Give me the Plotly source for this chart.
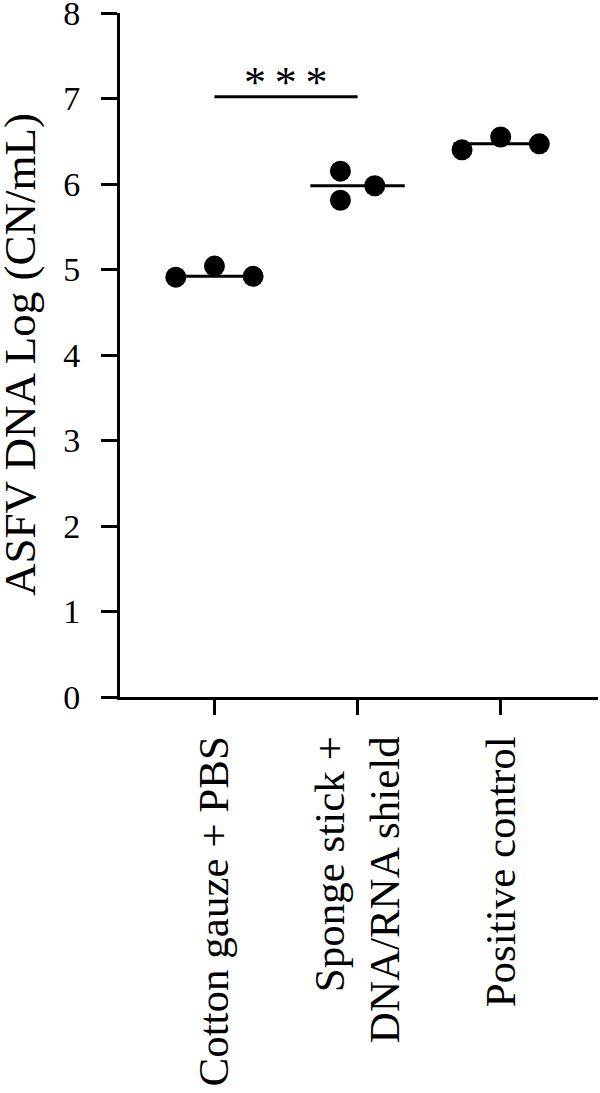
import plotly.graph_objects as go
import statistics

categories = ["Cotton gauze + PBS", "Sponge stick +<br>DNA/RNA shield", "Positive control"]
cotton_gauze_pbs = [4.91, 5.04, 4.92]
sponge_stick_shield = [6.15, 5.81, 5.98]
positive_control = [6.40, 6.55, 6.47]
y_ticks = [0, 1, 2, 3, 4, 5, 6, 7, 8]
significance_label = "*\u2009*\u2009*"
y_title = "ASFV DNA Log (CN/mL)"

groups = [cotton_gauze_pbs, sponge_stick_shield, positive_control]
# horizontal scatter offsets of the dots within each group
offsets = [[-0.27, 0.0, 0.27], [-0.12, -0.12, 0.12], [-0.27, 0.0, 0.27]]

FONT = "Liberation Serif"
fig = go.Figure()

for i, (vals, offs) in enumerate(zip(groups, offsets)):
    med = statistics.median(vals)
    fig.add_trace(go.Scatter(
        x=[i - 0.33, i + 0.33], y=[med, med], mode="lines",
        line=dict(color="black", width=3), showlegend=False, hoverinfo="skip"))
    fig.add_trace(go.Scatter(
        x=[i + o for o in offs], y=vals, mode="markers",
        marker=dict(color="black", size=21, line=dict(width=0)),
        showlegend=False))

# significance bar between group 0 and group 1
fig.add_trace(go.Scatter(
    x=[0, 1], y=[7.02, 7.02], mode="lines",
    line=dict(color="black", width=3), showlegend=False, hoverinfo="skip"))
fig.add_annotation(x=0.5, y=7.02, yref="y", xref="x", text=significance_label,
                   showarrow=False, yanchor="bottom", yshift=-12,
                   font=dict(family=FONT, size=44, color="black"))

# y-axis title as a rotated annotation
fig.add_annotation(x=0, xref="paper", y=0.5, yref="paper", text=y_title,
                   textangle=-90, showarrow=False, xanchor="center", yanchor="middle",
                   xshift=-100, font=dict(family=FONT, size=45, color="black"))

fig.update_layout(
    width=600, height=1093,
    margin=dict(l=120, r=2, t=13, b=396),
    paper_bgcolor="white", plot_bgcolor="white",
    font=dict(family=FONT, color="black"),
)
fig.update_xaxes(
    range=[-0.66, 2.68], tickvals=[0, 1, 2], ticktext=categories,
    tickangle=-90, ticks="outside", ticklen=15, tickwidth=3, tickcolor="black",
    showline=True, linecolor="black", linewidth=3, showgrid=False, zeroline=False,
    automargin=False, ticklabeloverflow="allow",
    tickfont=dict(family=FONT, size=43, color="black"), ticklabelstandoff=4)
fig.update_yaxes(
    range=[0, 8], tickvals=y_ticks, ticks="outside", ticklen=16, tickwidth=3,
    tickcolor="black", showline=True, linecolor="black", linewidth=3,
    showgrid=False, zeroline=False, automargin=False, ticklabeloverflow="allow",
    tickfont=dict(family=FONT, size=34, color="black"), ticklabelstandoff=14)

fig.write_html("out.html", config={"displayModeBar": False},
               post_script="document.body.style.margin='0';")
